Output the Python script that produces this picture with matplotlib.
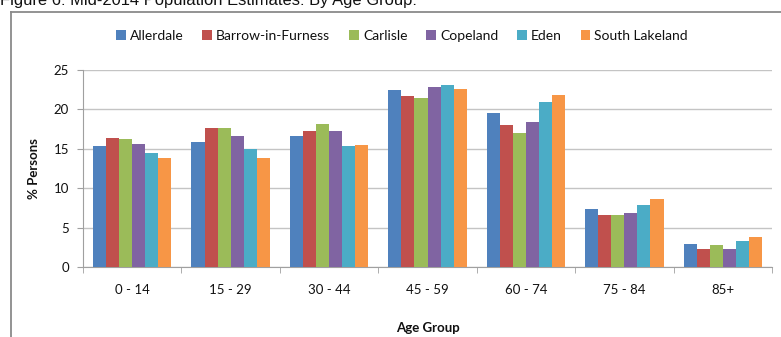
import matplotlib
matplotlib.use("Agg")
import matplotlib.pyplot as plt
from matplotlib.lines import Line2D
import numpy as np

plt.rcParams['font.family'] = ['Lato', 'DejaVu Sans']

age_groups = ["0 - 14", "15 - 29", "30 - 44", "45 - 59", "60 - 74", "75 - 84", "85+"]
districts = ["Allerdale", "Barrow-in-Furness", "Carlisle", "Copeland", "Eden", "South Lakeland"]

allerdale = [15.3, 15.8, 16.6, 22.5, 19.6, 7.3, 2.9]
barrow = [16.4, 17.7, 17.2, 21.7, 18.0, 6.6, 2.3]
carlisle = [16.3, 17.7, 18.2, 21.5, 17.0, 6.6, 2.8]
copeland = [15.6, 16.6, 17.2, 22.9, 18.4, 6.9, 2.3]
eden = [14.5, 15.0, 15.3, 23.1, 20.9, 7.9, 3.3]
south_lakeland = [13.8, 13.8, 15.5, 22.6, 21.8, 8.6, 3.8]

series = [allerdale, barrow, carlisle, copeland, eden, south_lakeland]
colors = ["#4F81BD", "#C0504D", "#9BBB59", "#8064A2", "#4BACC6", "#F79646"]

W, H = 781, 337
fig = plt.figure(figsize=(W / 100, H / 100), dpi=100)

# chart frame (top and left edges visible)
fig.add_artist(Line2D([11 / W, 1.0], [1 - 11.5 / H, 1 - 11.5 / H], color="#8a8a8a", lw=1.3))
fig.add_artist(Line2D([11 / W, 11 / W], [1 - 11.5 / H, 0], color="#8a8a8a", lw=1.3))

# caption above the chart frame
fig.text(0.0, 1 - 5 / H, "Figure 6: Mid-2014 Population Estimates: By Age Group:",
         family=["Liberation Sans", "DejaVu Sans"], fontsize=11.9, color="#111111",
         ha="left", va="baseline")

ax = fig.add_axes([83 / W, 1 - 267 / H, (772 - 83) / W, (267 - 70) / H])

n = len(series)
group_w = 0.796
bw = group_w / n
x = np.arange(len(age_groups))
for j, (vals, c, name) in enumerate(zip(series, colors, districts)):
    ax.bar(x + (j - (n - 1) / 2) * bw, vals, width=bw, color=c, label=name,
           linewidth=0, zorder=3)

ax.set_xlim(-0.5, len(age_groups) - 0.5)
ax.set_ylim(0, 25)
ax.set_yticks([0, 5, 10, 15, 20, 25])
ax.yaxis.grid(True, color="#c4c4c4", lw=1.0, zorder=0)
ax.set_axisbelow(True)

for s in ["top", "right"]:
    ax.spines[s].set_visible(False)
ax.spines["left"].set_color("#a0a0a0")
ax.spines["bottom"].set_color("#a0a0a0")

ax.set_xticks(x)
ax.set_xticklabels(age_groups)
ax.tick_params(axis="x", length=0, pad=12, labelsize=9.5, labelcolor="#111111")
ax.set_xticks(np.arange(-0.5, len(age_groups), 1.0), minor=True)
ax.tick_params(axis="x", which="minor", length=4, color="#a0a0a0", direction="out")
ax.tick_params(axis="y", length=4, color="#a0a0a0", pad=6, labelsize=9.5, labelcolor="#111111")

ax.set_xlabel("Age Group", fontweight="bold", fontsize=9.5, color="#111111", labelpad=19)
ax.set_ylabel("% Persons", fontweight="bold", fontsize=9.5, color="#111111", labelpad=10)

fig.legend(loc="center", bbox_to_anchor=(402 / W, 1 - 36 / H), ncol=6, frameon=False,
           fontsize=10, handlelength=0.7, handleheight=0.7, handletextpad=0.3,
           columnspacing=1.35, labelcolor="#111111")

fig.savefig("out.png", dpi=100)
